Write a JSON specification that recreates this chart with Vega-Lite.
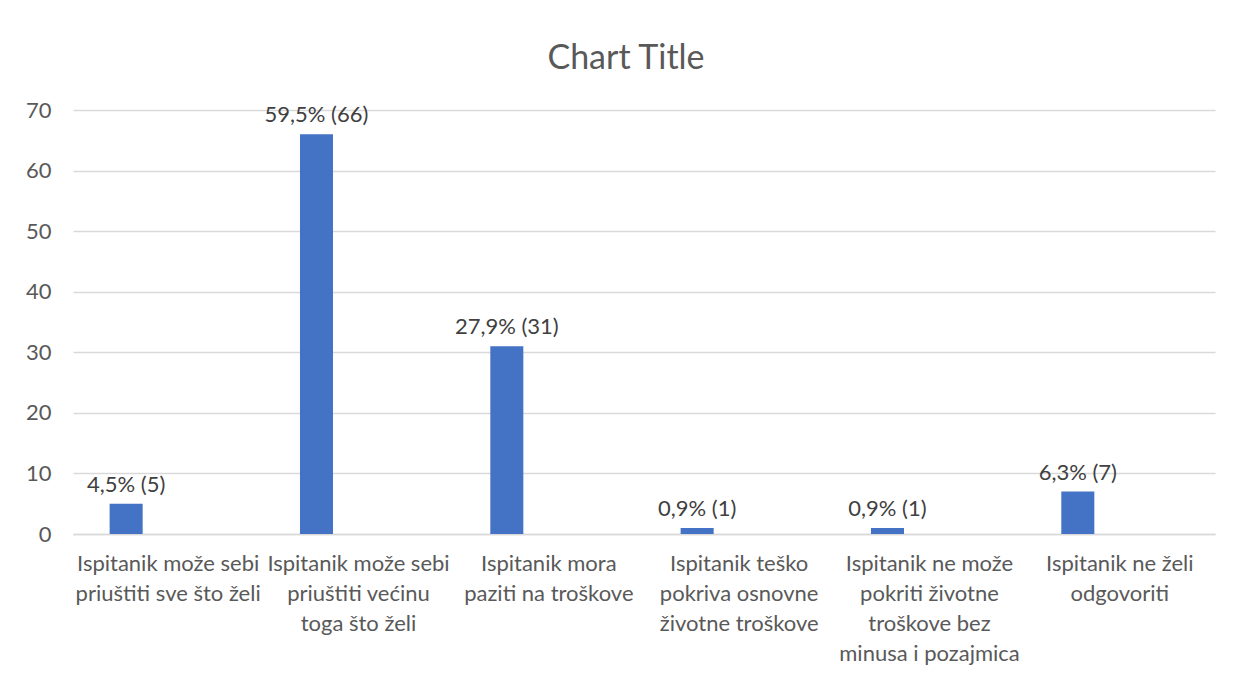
{
  "$schema": "https://vega.github.io/schema/vega-lite/v6.json",
  "width": 1142,
  "height": 424,
  "autosize": {"type": "none"},
  "padding": {"left": 73, "top": 110, "right": 18, "bottom": 144},
  "background": "white",
  "title": {"text": "Chart Title", "fontSize": 34, "font": "Lato", "fontWeight": "normal", "color": "#595959", "anchor": "middle", "offset": 23, "dx": -18},
  "data": {"values": [
    {"category": "Ispitanik može sebi\npriuštiti sve što želi", "series": "A", "count": 5, "label": "4,5% (5)"},
    {"category": "Ispitanik može sebi\npriuštiti većinu\ntoga što želi", "series": "A", "count": 66, "label": "59,5% (66)"},
    {"category": "Ispitanik mora\npaziti na troškove", "series": "A", "count": 31, "label": "27,9% (31)"},
    {"category": "Ispitanik teško\npokriva osnovne\nživotne troškove", "series": "A", "count": 1, "label": "0,9% (1)"},
    {"category": "Ispitanik ne može\npokriti životne\ntroškove bez\nminusa i pozajmica", "series": "A", "count": 1, "label": "0,9% (1)"},
    {"category": "Ispitanik ne želi\nodgovoriti", "series": "A", "count": 7, "label": "6,3% (7)"}
  ]},
  "encoding": {
    "x": {"field": "category", "type": "nominal", "sort": null,
      "scale": {"paddingInner": 0, "paddingOuter": 0},
      "axis": {"title": null, "labelAngle": 0, "labelExpr": "split(datum.label, '\\n')", "labelFont": "Lato", "labelFontSize": 22, "labelColor": "#595959", "labelLineHeight": 30, "labelLimit": 0, "labelPadding": 19, "ticks": false, "domainColor": "#d9d9d9", "domainWidth": 1.3, "labelBaseline": "top"}},
    "xOffset": {"field": "series", "type": "nominal", "scale": {"domain": ["A", "B"], "paddingInner": 0.607, "paddingOuter": 0.436}},
    "y": {"field": "count", "type": "quantitative",
      "scale": {"domain": [0, 70]},
      "axis": {"title": null, "values": [0, 10, 20, 30, 40, 50, 60, 70], "labelFont": "Lato", "labelFontSize": 22, "labelColor": "#595959", "labelPadding": 22, "ticks": false, "domain": false, "gridColor": "#d9d9d9", "gridWidth": 1.3}}
  },
  "layer": [
    {"mark": {"type": "bar", "color": "#4472C4"}},
    {"mark": {"type": "text", "font": "Lato", "fontSize": 22, "color": "#404040", "baseline": "bottom", "dy": -7}, "encoding": {"text": {"field": "label"}}}
  ],
  "config": {"view": {"stroke": null}}
}
